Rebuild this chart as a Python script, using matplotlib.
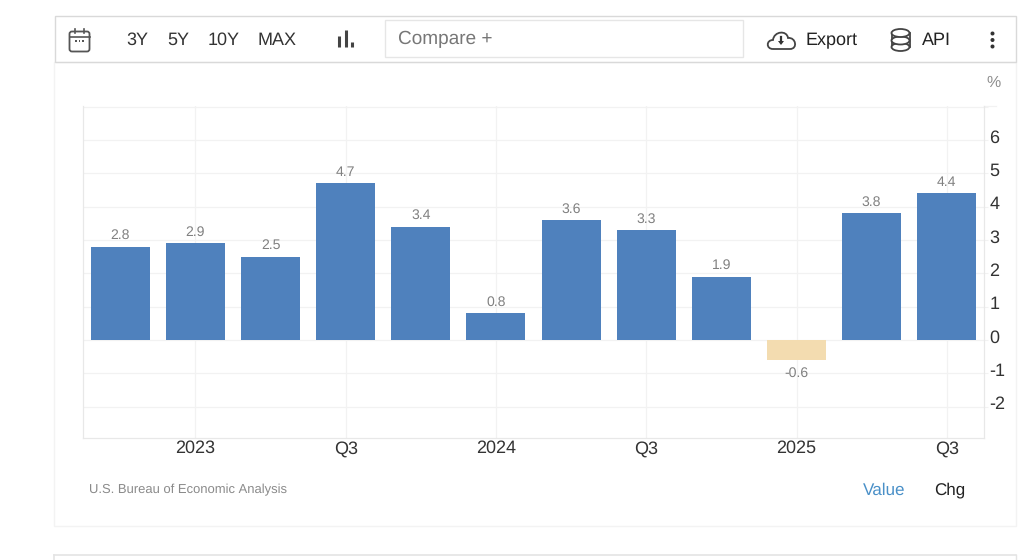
import matplotlib
matplotlib.use("Agg")
import matplotlib.pyplot as plt
from matplotlib.patches import Rectangle, FancyBboxPatch, Ellipse, PathPatch, Polygon
from matplotlib.path import Path
from matplotlib.transforms import ScaledTranslation

plt.rcParams['font.family'] = ['Liberation Sans', 'DejaVu Sans']
plt.rcParams['text.hinting'] = 'none'
plt.rcParams['text.hinting_factor'] = 1

values = [2.8, 2.9, 2.5, 4.7, 3.4, 0.8, 3.6, 3.3, 1.9, -0.6, 3.8, 4.4]
x_tick_index = [1, 3, 5, 7, 9, 11]
x_tick_labels = ['2023', 'Q3', '2024', 'Q3', '2025', 'Q3']
y_ticks = [-2, -1, 0, 1, 2, 3, 4, 5, 6]
range_buttons = ['3Y', '5Y', '10Y', 'MAX']

BLUE = '#4f81bd'
TAN = '#f3dcb0'
W, H = 1022, 560
fig = plt.figure(figsize=(W / 100, H / 100), dpi=100, facecolor='white')

# --- page furniture in pixel coordinates ---
ui = fig.add_axes([0, 0, 1, 1], zorder=0)
ui.set_xlim(0, W)
ui.set_ylim(H, 0)
ui.axis('off')


def box(x0, y0, x1, y1, ec, lw=1.0, fc='none'):
    ui.add_patch(Rectangle((x0, y0), x1 - x0, y1 - y0, fc=fc, ec=ec, lw=lw))


box(53.5, 61.5, 1015.5, 526, '#f3f3f3')
box(54.5, 15.5, 1015.5, 61.5, '#d9d9d9')
box(384.5, 19.5, 743, 56.5, '#e6e6e6')
ui.plot([53.5, 1015.5], [555, 555], color='#e4e4e4', lw=1.2)
ui.plot([53.5, 53.5], [555, 560], color='#e4e4e4', lw=1.2)
ui.plot([1015.5, 1015.5], [555, 560], color='#e4e4e4', lw=1.0)
ui.plot([984, 996], [105.5, 105.5], color='#f2f2f2', lw=0.9)

DARK = '#333333'
# calendar icon
ui.add_patch(FancyBboxPatch((69.5, 31.5), 20, 20, boxstyle='round,pad=0,rounding_size=2.5',
                            fc='none', ec='#555555', lw=1.3))
ui.plot([69.5, 89.5], [36.5, 36.5], color='#555555', lw=1.2)
for cx in (75, 84):
    ui.plot([cx, cx], [29, 33], color='#555555', lw=1.2)
for cx in (76, 79.5, 83):
    ui.add_patch(Rectangle((cx - .7, 40), 1.6, 1.6, fc='#555555', ec='none'))

for label, cx in zip(range_buttons, [137.5, 178, 223.5, 277.5]):
    ui.text(cx, 40, label, fontsize=12.9, color=DARK, ha='center', va='center')

# bar-type icon
for cx, top in zip((339, 345.5, 352), (36, 30, 42)):
    ui.plot([cx, cx], [top, 47], color='#444444', lw=2.2, solid_capstyle='butt')

ui.text(397.5, 39, 'Compare +', fontsize=13.4, color='#777777', ha='left', va='center')

# cloud icon
cloud = Path([(773, 49), (766, 49), (766, 40), (773, 40), (774, 31), (787, 30), (788, 38),
              (796, 37), (798, 49), (790, 49), (773, 49)],
             [Path.MOVETO, Path.CURVE4, Path.CURVE4, Path.CURVE4, Path.CURVE4, Path.CURVE4,
              Path.CURVE4, Path.CURVE4, Path.CURVE4, Path.CURVE4, Path.LINETO])
ui.add_patch(PathPatch(cloud, fc='none', ec='#444444', lw=1.3))
ui.add_patch(Polygon([(778, 41), (784, 41), (781, 45)], fc='#333333', ec='none'))
ui.plot([781, 781], [37, 42], color='#333333', lw=1.6)
ui.text(806, 40.5, 'Export', fontsize=13.3, color='#222222', ha='left', va='center')

# database icon
for cy in (47, 40.5, 33):
    ui.add_patch(Ellipse((900.5, cy), 18, 8, fc='white', ec='#444444', lw=1.3, zorder=3))
ui.plot([891.5, 891.5], [33, 47], color='#444444', lw=1.3, zorder=2)
ui.plot([909.5, 909.5], [33, 47], color='#444444', lw=1.3, zorder=2)
ui.text(922, 40, 'API', fontsize=13.3, color='#222222', ha='left', va='center')

# more dots
for cy in (33.5, 40, 46.5):
    ui.add_patch(Ellipse((992.5, cy), 4, 4, fc='#333333', ec='none'))

ui.text(994, 82.5, '%', fontsize=11.5, color='#8c8c8c', ha='center', va='center')
ui.text(89, 489.5, 'U.S. Bureau of Economic Analysis', fontsize=9.62, color='#8a8a8a',
        ha='left', va='center')
ui.text(884.5, 490.5, 'Value', fontsize=12.4, color='#4a90c8', ha='center', va='center')
ui.text(950, 490.5, 'Chg', fontsize=12.4, color='#222222', ha='center', va='center')

# --- chart ---
ax = fig.add_axes([82.5 / W, 1 - 437.5 / H, (984 - 82.5) / W, (437.5 - 105.5) / H], zorder=1)
ax.patch.set_alpha(0)
positions = list(range(len(values)))
colors = [BLUE if v >= 0 else TAN for v in values]
ax.bar(positions, values, width=0.785, color=colors, zorder=3)
ax.set_xlim(-0.503, 11.495)
ax.set_ylim(-2.93, 7.03)

for p, v in zip(positions, values):
    off = 4.5 if v >= 0 else -7
    ax.annotate(f'{v:.1f}', (p, v), xytext=(0, off), textcoords='offset pixels',
                ha='center', va='bottom' if v >= 0 else 'top', fontsize=9.8, color='#808080',
                zorder=4)

ax.set_xticks(x_tick_index)
ax.set_xticklabels(x_tick_labels, fontsize=13, color='#333333')
ax.set_yticks(y_ticks + [7])
ax.set_yticklabels([str(t) for t in y_ticks] + [''], fontsize=13, color='#333333', ha='left')
ax.yaxis.tick_right()
ax.grid(True, color='#f2f2f2', lw=0.9, zorder=0)
ax.set_axisbelow(True)
ax.tick_params(axis='x', length=0, pad=2)
ax.tick_params(axis='y', length=3, width=0.8, color='#f2f2f2', pad=1)
up = ScaledTranslation(0, 3.8 / 100, fig.dpi_scale_trans)
for lab in ax.get_yticklabels():
    lab.set_transform(lab.get_transform() + up)
for name, spine in ax.spines.items():
    spine.set_color('#e8e8e8')
    spine.set_linewidth(0.9)
ax.spines['top'].set_visible(False)

fig.savefig('out.png', dpi=100, facecolor='white')
